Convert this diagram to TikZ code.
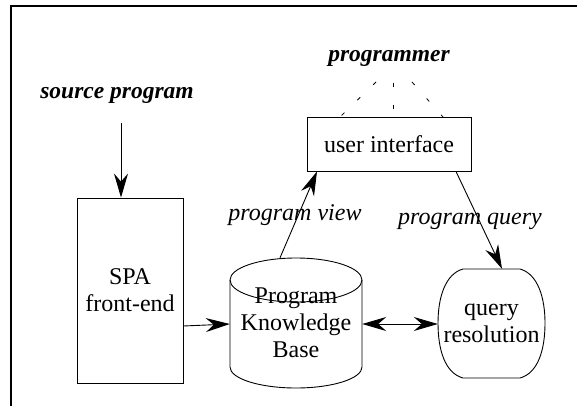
\documentclass[tikz,border=0pt]{standalone}
\usepackage{fontspec}
\setmainfont{LiberationSerif}[Extension=.ttf, UprightFont=*-Regular, ItalicFont=*-Italic, BoldFont=*-Bold, BoldItalicFont=*-BoldItalic]
\usetikzlibrary{arrows.meta}
\begin{document}
\begin{tikzpicture}[x=1pt,y=1pt,
  txt/.style={font=\fontsize{24}{27}\selectfont, inner sep=0pt, align=center},
  lbl/.style={font=\fontsize{24}{27}\selectfont\itshape, inner sep=0pt},
  ttl/.style={font=\fontsize{23.5}{27}\selectfont\bfseries\itshape, inner sep=0pt},
  boxed/.style={draw, line width=0.9pt, inner sep=0pt},
  conn/.style={line width=0.9pt, -{Stealth[length=24pt,width=14pt,inset=8pt]}},
  dconn/.style={line width=0.9pt, {Stealth[length=24pt,width=14pt,inset=8pt]}-{Stealth[length=24pt,width=14pt,inset=8pt]}},
  dsh/.style={line width=0.8pt, dash pattern=on 4pt off 18pt}]
\useasboundingbox (0,0) rectangle (577,-406);
% frame
\draw[line width=2pt] (11,-406) -- (11,-6) -- (577,-6);
% titles
\node[ttl] (src) at (117,-95) {source program};
\node[ttl] (prg) at (389,-58) {programmer};
% nodes
\node[boxed, txt, minimum width=106pt, minimum height=185pt] (spa) at (130,-290.5) {SPA\\front-end};
\node[boxed, txt, minimum width=164pt, minimum height=54pt] (ui) at (389,-144) {user interface};
\node[txt, minimum width=132pt, minimum height=130pt] (kb) at (296,-323) {Program\\Knowledge\\Base};
\node[txt, minimum width=107pt, minimum height=109pt] (qr) at (491.5,-323.5) {query\\resolution};
% cylinder outline
\draw[line width=0.9pt] (230,-280) -- (230,-367) arc[start angle=180,end angle=360,x radius=66pt,y radius=21pt] -- (362,-280);
\draw[line width=0.9pt] (296,-280) ellipse[x radius=66pt,y radius=22pt];
% query resolution outline
\draw[line width=0.9pt] (463,-269) -- (520,-269)
  .. controls (538,-274) and (545,-298) .. (545,-323)
  .. controls (545,-350) and (538,-373) .. (520,-378) -- (463,-378)
  .. controls (445,-373) and (438,-350) .. (438,-323)
  .. controls (438,-298) and (445,-274) .. (463,-269) -- cycle;
% dashed lines from programmer
\coordinate (d1) at (376,-82);
\coordinate (d2) at (393,-83);
\coordinate (d3) at (412,-82);
\draw[dsh] (d1) -- (340,-117);
\draw[dsh] (d2) -- (393,-117);
\draw[dsh] (d3) -- (443,-117);
% connectors
\coordinate (a1) at (121,-123);
\draw[conn] (a1) -- (spa.north -| a1);
\draw[conn] ([yshift=-35.5pt]spa.east) -- ([yshift=-1pt]kb.west);
\draw[dconn] ([yshift=-1pt]kb.east) -- ([yshift=-0.5pt]qr.west);
\draw[conn] ([xshift=-16pt]kb.north) -- ([xshift=-72pt]ui.south);
\draw[conn] ([xshift=67pt]ui.south) -- ([xshift=10.5pt]qr.north);
% labels
\node[lbl] (lv) at (295,-215) {program view};
\node[lbl] (lq) at (470,-221) {program query};
\end{tikzpicture}
\end{document}
